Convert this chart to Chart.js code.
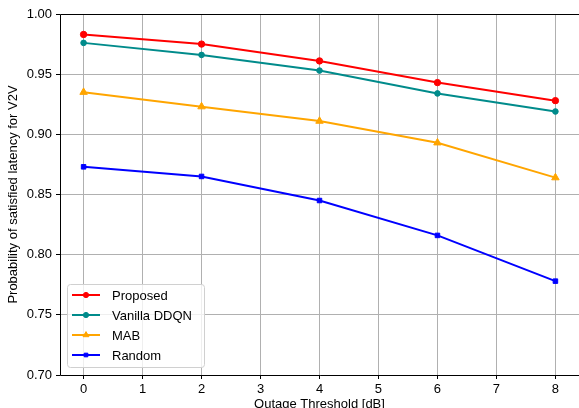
<!DOCTYPE html>
<html>
<head>
<meta charset="utf-8">
<script src="https://cdn.jsdelivr.net/npm/chart.js@4/dist/chart.umd.min.js"></script>
<style>
  html, body { margin: 0; padding: 0; background: #fff; }
  #wrap { width: 579px; height: 408px; }
</style>
</head>
<body>
<div id="wrap"><canvas id="grafico" width="579" height="408"></canvas></div>
<script>
const umbrales = [0, 2, 4, 6, 8];
const xTicks = [0, 1, 2, 3, 4, 5, 6, 7, 8];
const yTicks = [0.70, 0.75, 0.80, 0.85, 0.90, 0.95, 1.00];

const propuesto = [0.983, 0.975, 0.961, 0.943, 0.928];
const vanillaDDQN = [0.976, 0.966, 0.953, 0.934, 0.919];
const mab = [0.935, 0.923, 0.911, 0.893, 0.864];
const aleatorio = [0.873, 0.865, 0.845, 0.816, 0.778];

const nombres = ['Proposed', 'Vanilla DDQN', 'MAB', 'Random'];
const colores = ['#ff0000', '#008b8b', '#ffa500', '#0000ff'];
const marcadores = ['circle', 'circle', 'triangle', 'rect'];
const radios = [3.2, 2.8, 4.3, 3.2];

const fuente = "'Liberation Sans', Arial, sans-serif";

function serie(i, valores) {
    return {
        label: nombres[i],
        data: umbrales.map((x, k) => ({ x: x, y: valores[k] })),
        borderColor: colores[i],
        backgroundColor: colores[i],
        borderWidth: 2,
        pointStyle: marcadores[i],
        pointRadius: radios[i],
        pointBorderWidth: 1,
        pointHoverRadius: radios[i],
        tension: 0,
        clip: false
    };
}

// marco (izq, arriba, abajo) y leyenda dentro del área
const marco = {
    id: 'marco',
    afterDraw(chart) {
        const a = chart.chartArea;
        const ctx = chart.ctx;
        ctx.save();
        ctx.strokeStyle = '#000';
        ctx.lineWidth = 1;
        ctx.beginPath();
        ctx.moveTo(a.right + 1, a.top + 0.5);
        ctx.lineTo(a.left + 0.5, a.top + 0.5);
        ctx.lineTo(a.left + 0.5, a.bottom + 0.5);
        ctx.lineTo(a.right + 1, a.bottom + 0.5);
        ctx.stroke();

        // leyenda
        const lx = 67, ly = 284, lw = 137, lh = 83;
        ctx.fillStyle = 'rgba(255,255,255,0.8)';
        ctx.strokeStyle = '#d0d0d0';
        ctx.beginPath();
        ctx.roundRect(lx + 0.5, ly + 0.5, lw, lh, 3);
        ctx.fill();
        ctx.stroke();
        ctx.font = '13px ' + fuente;
        ctx.textBaseline = 'middle';
        chart.data.datasets.forEach((ds, i) => {
            const y = ly + 11 + i * 20;
            ctx.strokeStyle = ds.borderColor;
            ctx.lineWidth = 2;
            ctx.beginPath();
            ctx.moveTo(72, y);
            ctx.lineTo(100, y);
            ctx.stroke();
            ctx.fillStyle = ds.borderColor;
            ctx.lineWidth = 1;
            Chart.helpers.drawPoint(ctx, {
                pointStyle: ds.pointStyle,
                radius: ds.pointStyle === 'triangle' ? 3.4 : 2.6,
                borderWidth: 1,
                rotation: 0
            }, 86, y);
            ctx.fillStyle = '#000';
            ctx.fillText(ds.label, 112, y + 1);
        });
        ctx.restore();
    }
};

new Chart(document.getElementById('grafico').getContext('2d'), {
    type: 'line',
    data: {
        datasets: [
            serie(0, propuesto),
            serie(1, vanillaDDQN),
            serie(2, mab),
            serie(3, aleatorio)
        ]
    },
    options: {
        responsive: false,
        animation: false,
        layout: { autoPadding: false, padding: { top: 14, right: 0, left: 0, bottom: 0 } },
        plugins: {
            legend: { display: false },
            tooltip: { enabled: false }
        },
        scales: {
            x: {
                type: 'linear',
                min: -0.4,
                max: 8.4,
                afterBuildTicks: s => { s.ticks = xTicks.map(v => ({ value: v })); },
                afterFit: s => { s.height = 33; s.paddingLeft = 0; s.paddingRight = 0; },
                grid: { color: '#b0b0b0', lineWidth: 1, tickLength: 4, tickColor: '#000' },
                border: { display: false },
                ticks: {
                    color: '#000',
                    font: { family: fuente, size: 13 },
                    padding: 3,
                    maxRotation: 0,
                    callback: v => String(v)
                },
                title: {
                    display: true,
                    text: 'Outage Threshold [dB]',
                    color: '#000',
                    font: { family: fuente, size: 13 },
                    padding: { top: 0, bottom: -4 }
                }
            },
            y: {
                min: 0.70,
                max: 1.00,
                afterBuildTicks: s => { s.ticks = yTicks.map(v => ({ value: v })); },
                afterFit: s => { s.width = 60; },
                grid: { color: '#b0b0b0', lineWidth: 1, tickLength: 4, tickColor: '#000' },
                border: { display: false },
                ticks: {
                    color: '#000',
                    font: { family: fuente, size: 13 },
                    padding: 4,
                    callback: v => v.toFixed(2)
                },
                title: {
                    display: true,
                    text: 'Probability of satisfied latency for V2V',
                    color: '#000',
                    font: { family: fuente, size: 13 },
                    padding: { top: 6, bottom: 0 }
                }
            }
        }
    },
    plugins: [marco]
});
</script>
</body>
</html>
